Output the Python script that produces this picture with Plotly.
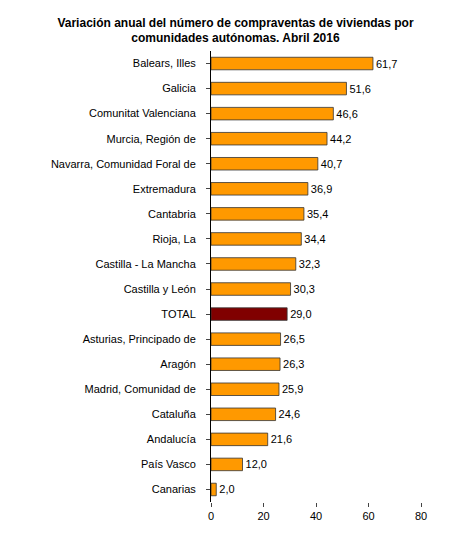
import plotly.graph_objects as go

regions = ["Balears, Illes", "Galicia", "Comunitat Valenciana", "Murcia, Región de",
           "Navarra, Comunidad Foral de", "Extremadura", "Cantabria", "Rioja, La",
           "Castilla - La Mancha", "Castilla y León", "TOTAL", "Asturias, Principado de",
           "Aragón", "Madrid, Comunidad de", "Cataluña", "Andalucía", "País Vasco", "Canarias"]
values = [61.7, 51.6, 46.6, 44.2, 40.7, 36.9, 35.4, 34.4, 32.3, 30.3, 29.0,
          26.5, 26.3, 25.9, 24.6, 21.6, 12.0, 2.0]

colors = ["#800000" if r == "TOTAL" else "#FF9900" for r in regions]

fig = go.Figure(go.Bar(
    x=values, y=regions, orientation="h",
    marker=dict(color=colors, line=dict(color="#333333", width=0.8)),
    text=[f"{v:.1f}".replace(".", ",") for v in values],
    textposition="outside", textfont=dict(size=11, color="black"),
    width=0.5, cliponaxis=False,
))

fig.update_layout(
    width=455, height=537,
    margin=dict(l=203, r=42, t=43, b=43),
    plot_bgcolor="white", paper_bgcolor="white",
    font=dict(family="Liberation Sans, Arial", size=11, color="black"),
    title=dict(text="<b>Variación anual del número de compraventas de viviendas por<br>comunidades autónomas. Abril 2016</b>",
               x=0.5, xanchor="center", y=0.965, yanchor="top", font=dict(size=12)),
    showlegend=False,
)
fig.update_xaxes(range=[0, 80], dtick=20, showgrid=False, zeroline=False,
                 ticks="outside", ticklen=4, showline=False)
fig.update_yaxes(autorange="reversed", showline=True, linecolor="black", linewidth=1,
                 ticks="outside", ticklen=4, ticklabelstandoff=8)

fig.write_html("out.html")
